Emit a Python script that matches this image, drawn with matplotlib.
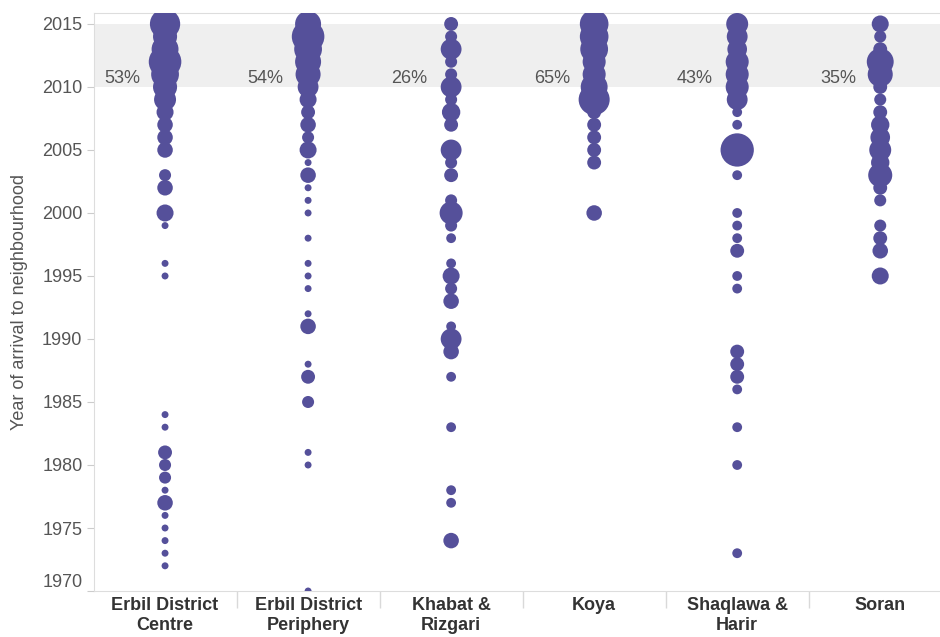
import numpy as np
import matplotlib.pyplot as plt

plt.rcParams['font.family'] = ['Liberation Sans', 'DejaVu Sans']

# Regions and share of arrivals 2010-2015
regions = ['Erbil District\nCentre', 'Erbil District\nPeriphery', 'Khabat &\nRizgari',
           'Koya', 'Shaqlawa &\nHarir', 'Soran']
share_recent = ['53%', '54%', '26%', '65%', '43%', '35%']

# Year of arrival and number of respondents
centre_years = [2015, 2014, 2013, 2012, 2011, 2010, 2009, 2008, 2007, 2006, 2005, 2003, 2002,
                2000, 1999, 1996, 1995, 1984, 1983, 1981, 1980, 1979, 1978, 1977, 1976, 1975,
                1974, 1973, 1972]
centre_counts = [19, 12, 15, 22, 16, 12, 10, 6, 5, 5, 5, 3, 5, 6, 1, 1, 1, 1, 1, 4, 3, 3, 1,
                 5, 1, 1, 1, 1, 1]

periphery_years = [2015, 2014, 2013, 2012, 2011, 2010, 2009, 2008, 2007, 2006, 2005, 2004,
                   2003, 2002, 2001, 2000, 1998, 1996, 1995, 1994, 1992, 1991, 1988, 1987,
                   1985, 1981, 1980, 1970]
periphery_counts = [14, 22, 16, 14, 13, 9, 6, 4, 5, 3, 6, 1, 5, 1, 1, 1, 1, 1, 1, 1, 1, 5, 1,
                    4, 3, 1, 1, 1]

khabat_years = [2015, 2014, 2013, 2012, 2011, 2010, 2009, 2008, 2007, 2005, 2004, 2003, 2001,
                2000, 1999, 1998, 1996, 1995, 1994, 1993, 1991, 1990, 1989, 1987, 1983, 1978,
                1977, 1974]
khabat_counts = [4, 3, 9, 3, 3, 9, 3, 7, 4, 9, 3, 4, 3, 11, 3, 2, 2, 6, 3, 5, 2, 9, 5, 2, 2, 2,
                 2, 5]

koya_years = [2015, 2014, 2013, 2012, 2011, 2010, 2009, 2008, 2007, 2006, 2005, 2004, 2000]
koya_counts = [17, 17, 16, 11, 11, 15, 20, 4, 4, 4, 4, 4, 5]

shaqlawa_years = [2015, 2014, 2013, 2012, 2011, 2010, 2009, 2008, 2007, 2005, 2003, 2000, 1999,
                  1998, 1997, 1995, 1994, 1989, 1988, 1987, 1986, 1983, 1980, 1973]
shaqlawa_counts = [10, 9, 8, 11, 11, 11, 9, 2, 2, 23, 2, 2, 2, 2, 4, 2, 2, 4, 4, 4, 2, 2, 2, 2]

soran_years = [2015, 2014, 2013, 2012, 2011, 2010, 2009, 2008, 2007, 2006, 2005, 2004, 2003,
               2002, 2001, 1999, 1998, 1997, 1995]
soran_counts = [6, 3, 4, 15, 13, 4, 3, 4, 7, 8, 10, 7, 12, 4, 3, 3, 4, 5, 6]

series = [(centre_years, centre_counts), (periphery_years, periphery_counts),
          (khabat_years, khabat_counts), (koya_years, koya_counts),
          (shaqlawa_years, shaqlawa_counts), (soran_years, soran_counts)]

fig = plt.figure(figsize=(9.4, 6.37), dpi=100)
ax = fig.add_axes([0.0995, 0.0722, 0.913, 0.9074])

# shaded band for the recent period
ax.axhspan(2010, 2015, color='#efefef', zorder=0, linewidth=0)

for i, (yrs, cnt) in enumerate(series):
    ax.scatter(np.full(len(yrs), i), yrs, s=np.array(cnt) * 25, color='#55509a',
               linewidths=0, zorder=3)
    ax.text(i - 0.17, 2010.7, share_recent[i], ha='right', va='center', fontsize=13,
            color='#555555', zorder=4)

ax.set_xlim(-0.5, 5.5)
ax.set_ylim(1970, 2015.87)
ax.set_yticks(range(1970, 2016, 5))
ax.set_xticks(range(6))
ax.set_xticklabels(regions, fontweight='bold', fontsize=13, color='#333333', linespacing=1.25)
ax.set_xticks(np.arange(0.5, 5, 1), minor=True)
ax.tick_params(axis='x', which='major', length=0, pad=4)
ax.tick_params(axis='x', which='minor', length=12, color='#d9d9d9', width=1)
ax.tick_params(axis='y', labelsize=13, labelcolor='#555555', length=5, color='#cccccc', pad=3)
ax.get_yticklabels()[0].set_va('bottom')

ax.set_ylabel('Year of arrival to neighbourhood', fontsize=13, color='#555555', labelpad=10)

for side in ['top', 'left', 'bottom']:
    ax.spines[side].set_color('#dddddd')
ax.spines['right'].set_visible(False)

fig.savefig('out.png', dpi=100)
